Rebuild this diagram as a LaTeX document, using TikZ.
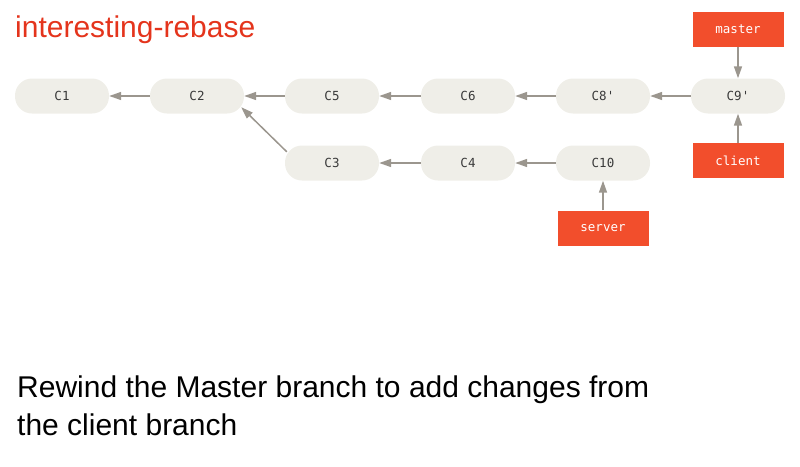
\documentclass[tikz,border=0pt]{standalone}
\usepackage{fontspec}
\setmainfont{Liberation Sans}
\setmonofont{DejaVu Sans Mono}
\usetikzlibrary{arrows.meta}
\definecolor{commitfill}{HTML}{EFEEE8}
\definecolor{commitText}{HTML}{3A3A3A}
\definecolor{branchfill}{HTML}{F24E2C}
\definecolor{arrowgray}{HTML}{9B968E}
\definecolor{titlered}{HTML}{E4341C}

\begin{document}
\begin{tikzpicture}[x=1pt, y=-1pt,
    commit/.style={rectangle, rounded corners=17pt, fill=commitfill,
        minimum width=94pt, minimum height=35pt, inner sep=0pt,
        font=\ttfamily\fontsize{12.5}{14}\selectfont, text=commitText},
    branch/.style={rectangle, fill=branchfill, minimum width=91pt,
        minimum height=35pt, inner sep=0pt,
        font=\ttfamily\fontsize{12.5}{14}\selectfont, text=white},
    parent/.style={draw=arrowgray, line width=1.5pt,
        -{Triangle[length=12pt, width=8pt]}}]
    \useasboundingbox (0,0) rectangle (800,466);

    % Title
    \node[anchor=base west, inner sep=0pt, text=titlered,
        font=\fontsize{30}{32}\selectfont] (title) at (15,37) {interesting-rebase};

    % Main line: C1 - C2 - C5 - C6 - C8' - C9'
    \begin{scope}
        \node[commit] (c1) at (62,96) {C1};
        \node[commit] (c2) at (197,96) {C2};
        \node[commit] (c5) at (332,96) {C5};
        \node[commit] (c6) at (468,96) {C6};
        \node[commit] (c8) at (603,96) {C8'};
        \node[commit] (c9) at (738,96) {C9'};
    \end{scope}

    % Server line: C3 - C4 - C10
    \begin{scope}
        \node[commit] (c3) at (332,163) {C3};
        \node[commit] (c4) at (468,163) {C4};
        \node[commit] (c10) at (603,163) {C10};
    \end{scope}

    % Branches
    \node[branch] (master) at (738,29) {master};
    \node[branch] (client) at (738,160.5) {client};
    \node[branch] (server) at (603,228) {server};

    % Parent links
    \draw[parent] (c2) -- (c1);
    \draw[parent] (c5) -- (c2);
    \draw[parent] (c6) -- (c5);
    \draw[parent] (c8) -- (c6);
    \draw[parent] (c9) -- (c8);
    \draw[parent] (c4) -- (c3);
    \draw[parent] (c10) -- (c4);
    \draw[parent] ([xshift=2pt, yshift=-6.5pt]c3.north west)
        -- ([xshift=-3pt, yshift=6.5pt]c2.south east);

    % Branch pointers
    \draw[parent] (master) -- (c9);
    \draw[parent] (client) -- (c9);
    \draw[parent] (server) -- (c10);

    % Caption
    \node[anchor=base west, inner sep=0pt, align=left,
        font=\fontsize{30}{38}\selectfont] (caption) at (17,435)
        {Rewind the Master branch to add changes from\\the client branch};
\end{tikzpicture}
\end{document}
